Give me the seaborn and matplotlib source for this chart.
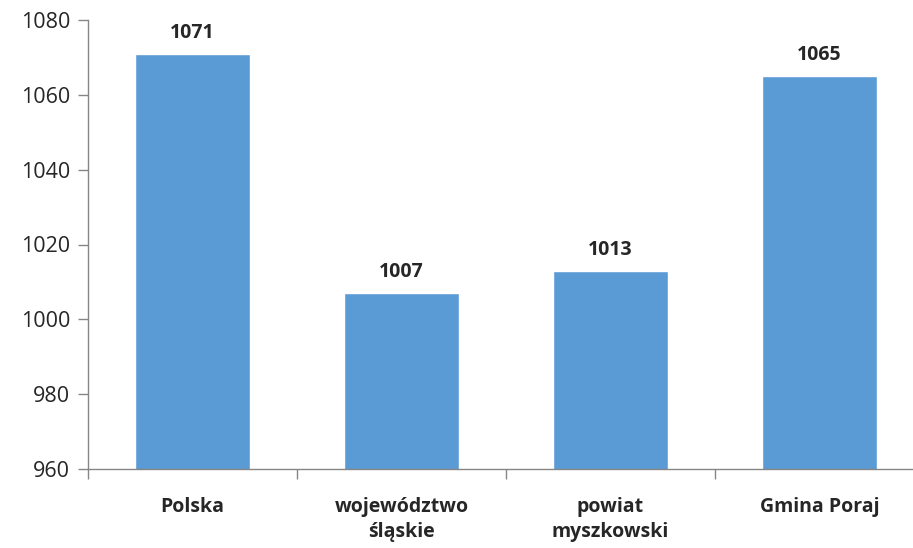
import numpy as np
import pandas as pd
import seaborn as sns
import matplotlib.pyplot as plt
from matplotlib.ticker import FixedLocator

categories = ["Polska", "województwo\nśląskie", "powiat\nmyszkowski", "Gmina Poraj"]
values = [1071, 1007, 1013, 1065]
y_ticks = [960, 980, 1000, 1020, 1040, 1060, 1080]

df = pd.DataFrame({"kategoria": categories, "wartosc": values})

sns.set_style("white")
plt.rcParams['font.family'] = ['Open Sans', 'DejaVu Sans']

fig = plt.figure(figsize=(9.13, 5.48), dpi=100)
# plot area runs a bit past the right edge, as in the original
ax = fig.add_axes([88 / 913, 79 / 548, 836 / 913, 449 / 548])

sns.barplot(data=df, x="kategoria", y="wartosc", color="#5B9BD5",
            width=0.555, saturation=1, ax=ax)

ax.set_ylim(960, 1080)
ax.set_xlim(-0.5, 3.5)
ax.set_yticks(y_ticks)
ax.set_xlabel("")
ax.set_ylabel("")

for i, v in enumerate(values):
    ax.annotate(str(v), (i, v), xytext=(0, 8), textcoords="offset points",
                ha="center", va="bottom", fontsize=14, fontweight="bold")

gray = "#868686"
for s in ["top", "right"]:
    ax.spines[s].set_visible(False)
for s in ["left", "bottom"]:
    ax.spines[s].set_color(gray)
    ax.spines[s].set_linewidth(1)

ax.tick_params(axis="y", left=True, length=7, color=gray, width=1, labelsize=15.5, pad=6)
ax.tick_params(axis="x", which="major", bottom=True, length=0, labelsize=14, pad=20)
ax.xaxis.set_minor_locator(FixedLocator(np.arange(-0.5, 4, 1)))
ax.tick_params(axis="x", which="minor", bottom=True, length=7, color=gray, width=1)
for lab in ax.get_xticklabels():
    lab.set_fontweight("bold")
    lab.set_linespacing(1.35)

fig.savefig("out.png", dpi=100)
